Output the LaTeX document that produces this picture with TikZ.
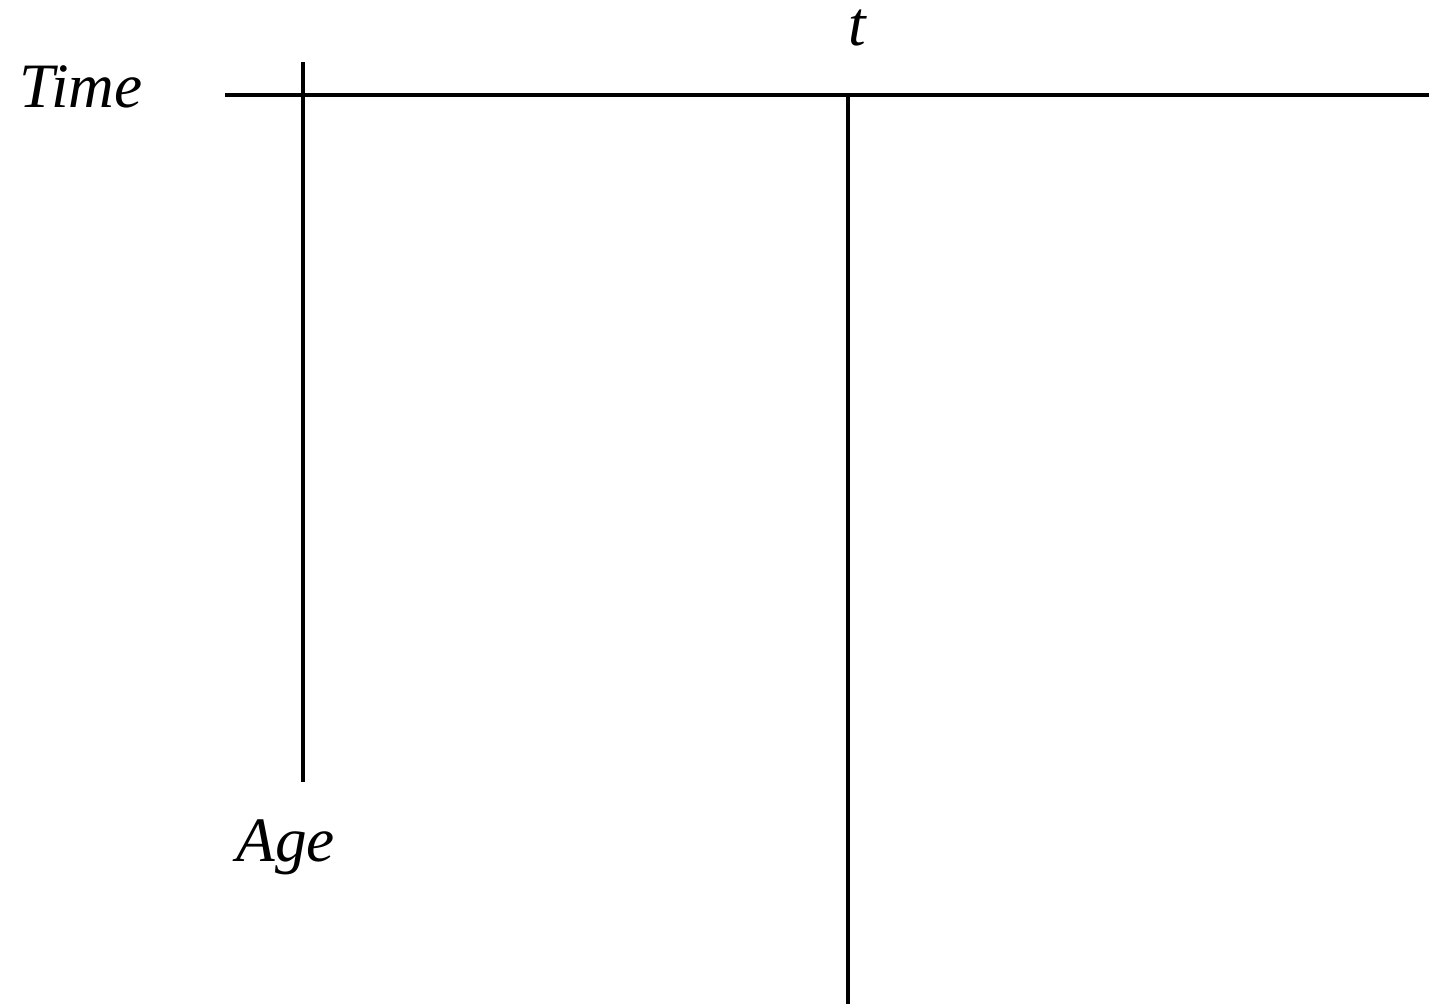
\documentclass[tikz,border=0pt]{standalone}
\usepackage{fontspec}
\setmainfont{Liberation Serif}
\usepackage{tikz}
\usetikzlibrary{positioning}

\begin{document}
\begin{tikzpicture}[
    x=0.02cm, y=-0.02cm,
    axis/.style={line width=1.9pt},
    lbl/.style={font=\fontsize{36}{42}\selectfont\itshape, inner sep=0pt}
]
\useasboundingbox (0,0) rectangle (1429,1004);
\node[lbl, anchor=base west] (time) at (19,107) {Time};
\node[lbl, anchor=base] (t) at (857,45) {t};
\node[lbl, anchor=base west] (age) at (236,861) {Age};
\coordinate (tstart) at (225,95);
\coordinate (tend) at (1429,95);
\coordinate (atop) at (303,62);
\coordinate (abot) at (303,782);
\coordinate (now) at (848,95);
\coordinate (nowend) at (848,1004);
\draw[axis] (tstart) -- (tend);
\draw[axis] (atop) -- (abot);
\draw[axis] (now) -- (nowend);
\end{tikzpicture}
\end{document}
